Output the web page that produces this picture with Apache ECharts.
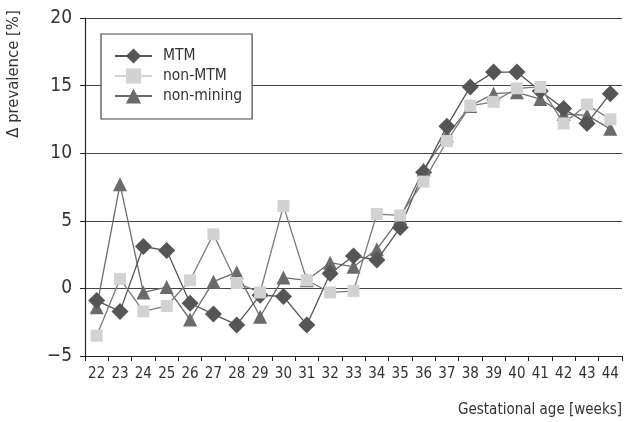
<!DOCTYPE html>
<html>
<head>
<meta charset="utf-8">
<script src="https://cdn.jsdelivr.net/npm/echarts@6/dist/echarts.min.js"></script>
<style>
html,body{margin:0;padding:0;background:#fff;}
#chart{width:625px;height:422px;}
</style>
</head>
<body>
<div id="chart"></div>
<script>
var weeks = ['22','23','24','25','26','27','28','29','30','31','32','33','34','35','36','37','38','39','40','41','42','43','44'];
var mtm = [-0.9, -1.7, 3.1, 2.8, -1.1, -1.9, -2.7, -0.5, -0.6, -2.7, 1.1, 2.4, 2.1, 4.5, 8.6, 12.0, 14.9, 16.0, 16.0, 14.6, 13.3, 12.2, 14.4];
var nonMtm = [-3.5, 0.7, -1.7, -1.3, 0.6, 4.0, 0.4, -0.3, 6.1, 0.6, -0.3, -0.2, 5.5, 5.4, 7.9, 10.9, 13.5, 13.8, 14.8, 14.9, 12.2, 13.6, 12.5];
var nonMining = [-1.4, 7.7, -0.3, 0.1, -2.3, 0.5, 1.2, -2.1, 0.8, 0.6, 1.9, 1.6, 2.9, 5.2, 8.8, 11.3, 13.5, 14.4, 14.5, 14.0, 12.9, 12.8, 11.8];
var yTicks = [-5, 0, 5, 10, 15, 20];

var FONT = '"DejaVu Sans Condensed","Liberation Sans Narrow","Liberation Sans",sans-serif';
var STRETCH = 'condensed';
var chart = echarts.init(document.getElementById('chart'), null, {renderer:'canvas'});
chart.setOption({
  animation: false,
  backgroundColor: '#fff',
  grid: {left: 85, right: 3, top: 18, bottom: 66},
  legend: {
    orient: 'vertical', left: 101, top: 34,
    padding: [14, 10, 15, 13],
    itemWidth: 37, itemHeight: 19, itemGap: 4,
    backgroundColor: '#fff', borderColor: '#444', borderWidth: 1.2,
    textStyle: {fontFamily: FONT, fontStyle: STRETCH, fontSize: 15.5, color: '#333', padding: [0,0,0,6]},
    data: [
      {name: 'MTM'},
      {name: 'non-MTM', lineStyle: {color: '#d0d0d0'}},
      {name: 'non-mining'}
    ]
  },
  graphic: [
    {type: 'text', right: 3, top: 403, style: {text: 'Gestational age [weeks]', fontFamily: FONT, fontStyle: STRETCH, fontSize: 15, fill: '#333'}},
    {type: 'text', x: 14, y: 74, rotation: Math.PI/2, style: {text: 'Δ prevalence [%]', fontFamily: FONT, fontStyle: STRETCH, fontSize: 16.5, fill: '#333', align: 'center', verticalAlign: 'middle'}}
  ],
  xAxis: {
    type: 'category', data: weeks, boundaryGap: true,
    axisLine: {onZero: false, lineStyle: {color: '#222', width: 1.2}},
    axisTick: {show: true, length: 5, lineStyle: {color: '#222'}},
    axisLabel: {interval: 0, fontFamily: FONT, fontStyle: STRETCH, fontSize: 15, color: '#333', margin: 11},
    splitLine: {show: false}
  },
  yAxis: {
    type: 'value', min: yTicks[0], max: yTicks[yTicks.length-1], interval: 5,
    axisLine: {show: true, lineStyle: {color: '#222', width: 1.2}},
    axisTick: {show: true, length: 5, lineStyle: {color: '#222'}},
    axisLabel: {fontFamily: FONT, fontStyle: STRETCH, fontSize: 19, color: '#333', margin: 13,
      formatter: function (v) { return String(v).replace('-', '\u2212'); }},
    splitLine: {show: true, lineStyle: {color: '#444', width: 1.2}}
  },
  series: [
    {name: 'non-mining', type: 'line', data: nonMining, symbol: 'triangle', symbolSize: 14, showAllSymbol: true,
     itemStyle: {color: '#6b6b6b'}, lineStyle: {color: '#6b6b6b', width: 1.3}, z: 2},
    {name: 'MTM', type: 'line', data: mtm, symbol: 'diamond', symbolSize: 17, showAllSymbol: true,
     itemStyle: {color: '#555555'}, lineStyle: {color: '#555555', width: 1.3}, z: 3},
    {name: 'non-MTM', type: 'line', data: nonMtm, symbol: 'rect', symbolSize: 12, showAllSymbol: true,
     itemStyle: {color: '#d2d2d2'}, lineStyle: {color: '#7a7a7a', width: 1.3}, z: 4}
  ]
});
</script>
</body>
</html>
